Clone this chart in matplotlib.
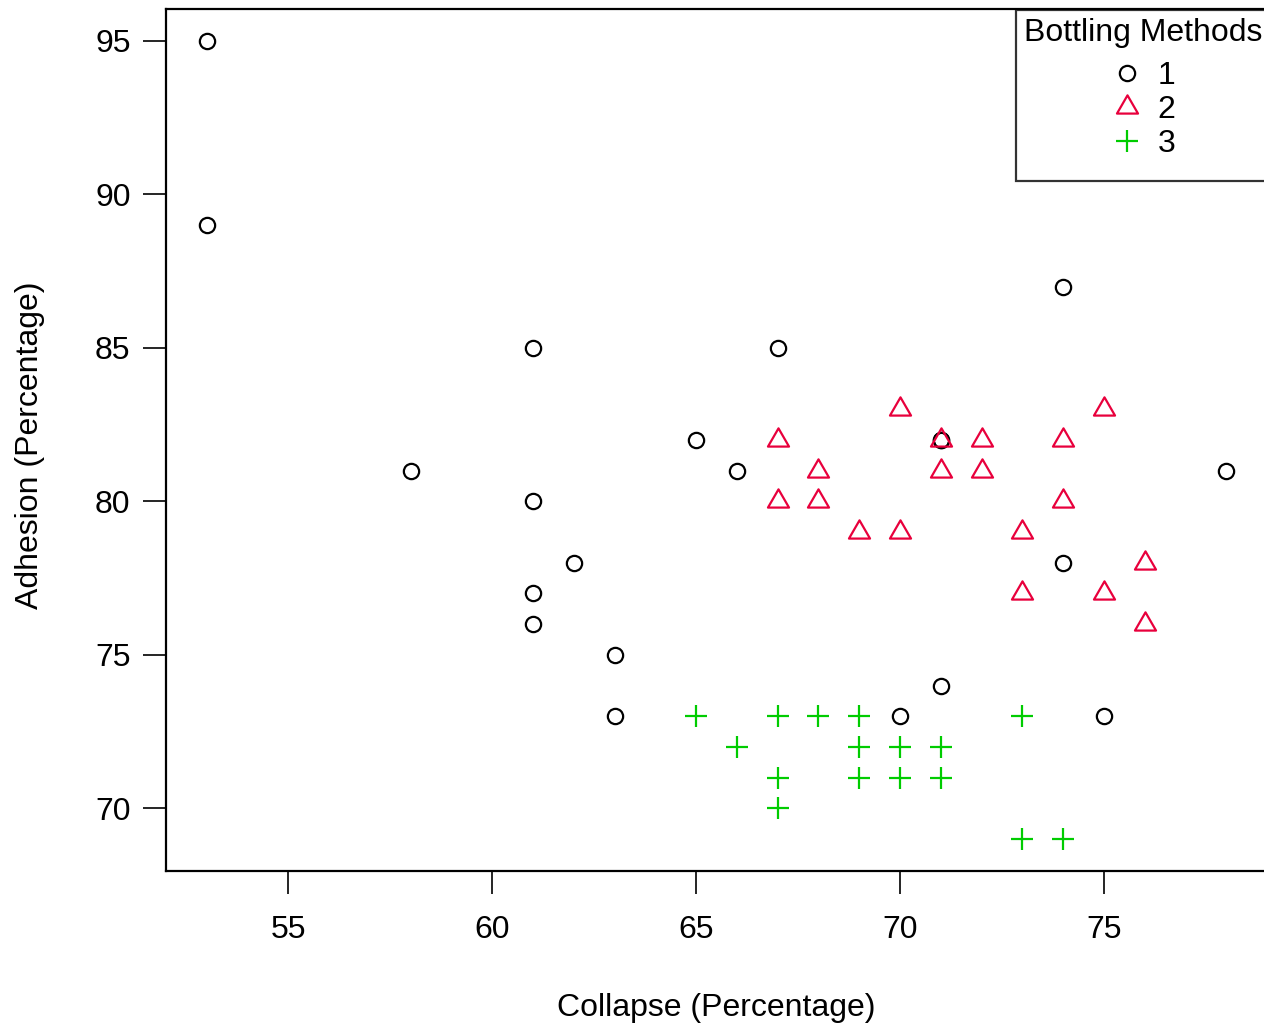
import matplotlib
matplotlib.use("Agg")
import matplotlib.pyplot as plt
from matplotlib.path import Path
from matplotlib.offsetbox import DrawingArea
import numpy as np

plt.rcParams['font.family'] = ['Liberation Sans', 'DejaVu Sans']

# Group 1 (circles)
m1_collapse = [53, 53, 58, 61, 61, 61, 61, 62, 63, 63, 65, 66, 67, 71, 71, 74, 74, 78, 70, 71, 75]
m1_adhesion = [95, 89, 81, 85, 80, 77, 76, 78, 75, 73, 82, 81, 85, 82, 82, 87, 78, 81, 73, 74, 73]
# Group 2 (triangles)
m2_collapse = [67, 67, 68, 68, 69, 70, 70, 71, 71, 72, 72, 73, 73, 74, 74, 75, 75, 76, 76]
m2_adhesion = [82, 80, 81, 80, 79, 83, 79, 82, 81, 82, 81, 79, 77, 82, 80, 83, 77, 78, 76]
# Group 3 (plus)
m3_collapse = [65, 66, 67, 67, 67, 68, 69, 69, 69, 70, 70, 71, 71, 73, 73, 74]
m3_adhesion = [73, 72, 73, 71, 70, 73, 73, 72, 71, 72, 71, 72, 71, 73, 69, 69]

x_ticks = [55, 60, 65, 70, 75]
y_ticks = [70, 75, 80, 85, 90, 95]
legend_labels = ["1", "2", "3"]

red = '#E8003C'
green = '#00CC00'
FS = 23

tri = Path([(0, 1.555), (1.347, -0.778), (-1.347, -0.778), (0, 1.555)],
           [Path.MOVETO, Path.LINETO, Path.LINETO, Path.CLOSEPOLY])

W, H = 1264, 1026
fig = plt.figure(figsize=(W / 100, H / 100), dpi=100)
ax = fig.add_axes([166 / W, 1 - 871 / H, (1267 - 166) / W, (871 - 9) / H])

ax.plot(m1_collapse, m1_adhesion, linestyle='none', marker='o', markersize=11,
        markerfacecolor='none', markeredgecolor='black', markeredgewidth=1.6, label=legend_labels[0])
ax.plot(m2_collapse, m2_adhesion, linestyle='none', marker=tri, markersize=17.5,
        markerfacecolor='none', markeredgecolor=red, markeredgewidth=1.6, label=legend_labels[1])
ax.plot(m3_collapse, m3_adhesion, linestyle='none', marker='+', markersize=16,
        markeredgecolor=green, markeredgewidth=1.6, label=legend_labels[2])

ax.set_xlim(52, 79)
ax.set_ylim(67.96, 96.04)
ax.set_xticks(x_ticks)
ax.set_yticks(y_ticks)
ax.tick_params(axis='both', direction='out', length=16.5, width=1.2, labelsize=FS)
ax.tick_params(axis='x', pad=15)
ax.tick_params(axis='y', pad=9)
for s in ax.spines.values():
    s.set_linewidth(1.6)

ax.set_xlabel('Collapse (Percentage)', fontsize=FS)
ax.set_ylabel('Adhesion (Percentage)', fontsize=FS)
ax.xaxis.label.set_va('center')
ax.xaxis.set_label_coords(0.5, (871 - 1008) / 862)
ax.yaxis.label.set_va('center')
ax.yaxis.set_label_coords((30 - 166) / 1101, (871 - 445) / 862)

leg = ax.legend(title='Bottling Methods', loc='upper left',
                bbox_to_anchor=(1016 / W, 1 - 10 / H), bbox_transform=fig.transFigure,
                fontsize=FS, title_fontsize=FS,
                frameon=True, fancybox=False, edgecolor='black', borderaxespad=0,
                handletextpad=0.45, labelspacing=0.13, borderpad=0.25, handlelength=1.0)
leg.get_frame().set_linewidth(1.6)
leg._legend_box.align = "center"
leg._legend_box.sep = 9.5
leg._legend_box._children.append(DrawingArea(1, 0.5))

fig.savefig('out.png', dpi=100)
